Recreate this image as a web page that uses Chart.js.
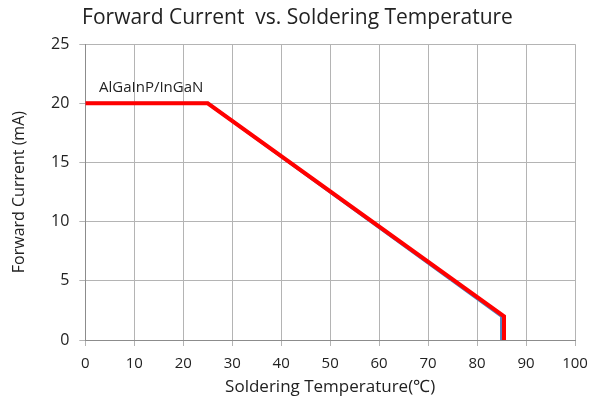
<!DOCTYPE html>
<html>
<head>
    <script src="https://cdn.jsdelivr.net/npm/chart.js"></script>
    <style>
        body { margin: 0; background: #fff; }
        #wrap { width: 592px; height: 400px; }
    </style>
</head>
<body>
<div id="wrap"><canvas id="curChart"></canvas></div>
<script>
    // Data
    var tempRed = [0, 25, 85.5, 85.5];
    var currentRed = [20, 20, 2, 0];
    var tempBlue = [0, 25, 85, 85];
    var currentBlue = [20, 20, 2, 0];
    var seriesLabel = 'AlGaInP/InGaN';
    var labelPos = [2.8, 21.3]; // x, y in data units

    function pts(xs, ys) {
        return xs.map(function (x, i) { return { x: x, y: ys[i] }; });
    }

    var fontFam = "'Open Sans', sans-serif";

    var ctx = document.getElementById('curChart').getContext('2d');
    var chart = new Chart(ctx, {
        type: 'scatter',
        data: {
            datasets: [
                {
                    label: 'blue',
                    data: pts(tempBlue, currentBlue),
                    showLine: true,
                    borderColor: '#4f81bd',
                    borderWidth: 3,
                    pointRadius: 0,
                    order: 2
                },
                {
                    label: seriesLabel,
                    data: pts(tempRed, currentRed),
                    showLine: true,
                    borderColor: '#ff0000',
                    borderWidth: 4,
                    pointRadius: 0,
                    order: 1
                }
            ]
        },
        options: {
            responsive: true,
            maintainAspectRatio: false,
            animation: false,
            layout: { padding: { left: 7, right: 4, top: 0, bottom: 4 } },
            scales: {
                x: {
                    type: 'linear',
                    min: 0, max: 100,
                    afterFit: function (scale) {
                        scale.paddingRight = 17; // let the plot reach closer to the edge
                    },
                    ticks: { stepSize: 10, color: '#222', font: { family: fontFam, size: 15, lineHeight: 1.2 }, padding: 9 },
                    grid: { color: '#b4b4b4', lineWidth: 1, tickLength: 6 },
                    border: { color: '#8c8c8c' },
                    title: { display: true, text: 'Soldering Temperature(℃)', color: '#222', font: { family: fontFam, size: 17, lineHeight: 1 }, padding: { top: -3, bottom: 0 } }
                },
                y: {
                    min: 0, max: 25,
                    ticks: { stepSize: 5, color: '#222', font: { family: fontFam, size: 16 }, padding: 10 },
                    grid: { color: '#b4b4b4', lineWidth: 1, tickLength: 6 },
                    border: { color: '#8c8c8c' },
                    title: { display: true, text: 'Forward Current (mA)', color: '#222', font: { family: fontFam, size: 16, lineHeight: 1 }, padding: { bottom: 14 } }
                }
            },
            plugins: {
                legend: { display: false },
                tooltip: { enabled: false },
                title: {
                    display: true,
                    text: 'Forward Current  vs. Soldering Temperature',
                    color: '#222',
                    font: { family: fontFam, size: 21, weight: 'normal', lineHeight: 1.2 },
                    padding: { top: 5, bottom: 14 }
                }
            }
        },
        plugins: [{
            id: 'seriesText',
            afterDatasetsDraw: function (chart) {
                var c = chart.ctx;
                var x = chart.scales.x.getPixelForValue(labelPos[0]);
                var y = chart.scales.y.getPixelForValue(labelPos[1]);
                c.save();
                c.font = '15px ' + fontFam;
                c.fillStyle = '#222';
                c.textAlign = 'left';
                c.textBaseline = 'middle';
                c.fillText(seriesLabel, x, y);
                c.restore();
            }
        }]
    });
</script>
</body>
</html>
